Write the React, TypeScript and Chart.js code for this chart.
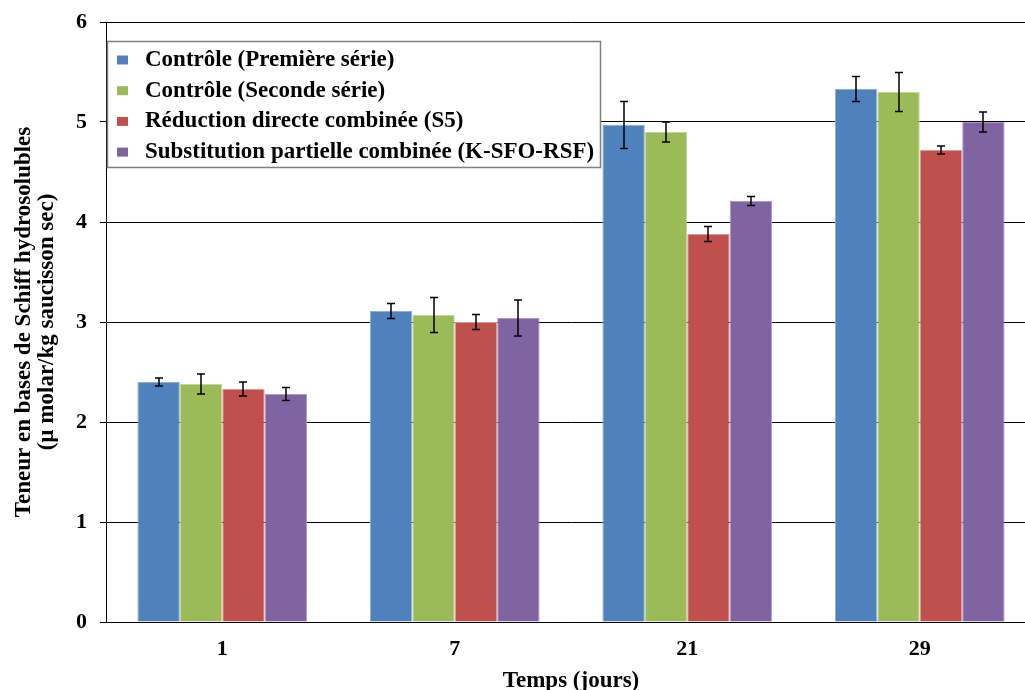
import React, { useEffect, useRef } from "react";
import { Chart, registerables } from "chart.js";

Chart.register(...registerables);

const categories = ["1", "7", "21", "29"];
const seriesLabels = [
  "Contrôle (Première série)",
  "Contrôle (Seconde série)",
  "Réduction directe combinée (S5)",
  "Substitution partielle combinée (K-SFO-RSF)",
];
const controle1 = [2.4, 3.11, 4.97, 5.33];
const controle1Err = [0.04, 0.075, 0.235, 0.125];
const controle2 = [2.38, 3.07, 4.9, 5.3];
const controle2Err = [0.1, 0.175, 0.1, 0.195];
const reduction = [2.33, 3.0, 3.88, 4.72];
const reductionErr = [0.07, 0.075, 0.075, 0.04];
const substitution = [2.28, 3.04, 4.21, 5.0];
const substitutionErr = [0.065, 0.18, 0.045, 0.1];
const yTicks = [0, 1, 2, 3, 4, 5, 6];

const colors = ["#4F81BD", "#9BBB59", "#C0504D", "#8064A2"];
const borders = ["#8EAEDA", "#C3DA94", "#E09896", "#B09ACB"];
const FONT = "'Liberation Serif', 'Times New Roman', serif";

const errorBarPlugin = {
  id: "errorBars",
  afterDatasetsDraw(chart: any) {
    const ctx = chart.ctx;
    const yScale = chart.scales.y;
    ctx.save();
    ctx.strokeStyle = "#000";
    ctx.lineWidth = 1.5;
    chart.data.datasets.forEach((ds: any, i: number) => {
      const meta = chart.getDatasetMeta(i);
      meta.data.forEach((el: any, j: number) => {
        const v = ds.data[j];
        const e = ds.errors[j];
        const top = yScale.getPixelForValue(v + e);
        const bot = yScale.getPixelForValue(v - e);
        const x = Math.round(el.x);
        ctx.beginPath();
        ctx.moveTo(x, top);
        ctx.lineTo(x, bot);
        ctx.moveTo(x - 4, top);
        ctx.lineTo(x + 4, top);
        ctx.moveTo(x - 4, bot);
        ctx.lineTo(x + 4, bot);
        ctx.stroke();
      });
    });
    ctx.restore();
  },
};

const legendPlugin = {
  id: "boxLegend",
  afterDraw(chart: any) {
    const ctx = chart.ctx;
    ctx.save();
    const left = 107.5, top = 41.5, w = 493, h = 126;
    ctx.fillStyle = "#fff";
    ctx.fillRect(left, top, w, h);
    ctx.strokeStyle = "#7f7f7f";
    ctx.lineWidth = 1.5;
    ctx.strokeRect(left, top, w, h);
    ctx.font = `bold 23px ${FONT}`;
    ctx.textBaseline = "middle";
    ctx.textAlign = "left";
    chart.data.datasets.forEach((ds: any, i: number) => {
      const cy = 60 + i * 30.7;
      ctx.fillStyle = ds.backgroundColor;
      ctx.fillRect(117, cy - 4.5, 11, 9);
      ctx.fillStyle = "#000";
      ctx.fillText(ds.label, 145, cy);
    });
    ctx.restore();
  },
};

export default function App() {
  const ref = useRef<HTMLCanvasElement>(null);
  useEffect(() => {
    if (!ref.current) return;
    const values = [controle1, controle2, reduction, substitution];
    const errs = [controle1Err, controle2Err, reductionErr, substitutionErr];
    const chart = new Chart(ref.current, {
      type: "bar",
      data: {
        labels: categories,
        datasets: values.map((d, i) => ({
          label: seriesLabels[i],
          data: d,
          errors: errs[i],
          backgroundColor: colors[i],
          borderColor: borders[i],
          borderWidth: 1,
          categoryPercentage: 0.73,
          barPercentage: 1,
        })) as any,
      },
      options: {
        animation: false,
        responsive: false,
        maintainAspectRatio: false,
        layout: { padding: { top: 22, left: 0, right: 0, bottom: 0 } },
        plugins: { legend: { display: false }, tooltip: { enabled: false } },
        scales: {
          x: {
            grid: { display: false, drawTicks: false },
            border: { display: true, color: "#000", width: 1 },
            ticks: { color: "#000", font: { family: FONT, size: 22, weight: "bold" }, padding: 14 },
            title: {
              display: true,
              text: "Temps (jours)",
              color: "#000",
              font: { family: FONT, size: 23, weight: "bold", lineHeight: 1 },
              padding: { top: 0, bottom: -3 },
            },
            afterFit(scale: any) {
              scale.height = 68;
              scale.paddingLeft = 0;
              scale.paddingRight = 0;
            },
          },
          y: {
            min: 0,
            max: 6,
            afterBuildTicks(scale: any) {
              scale.ticks = yTicks.map((v) => ({ value: v }));
            },
            grid: { color: "#000", lineWidth: 1, drawTicks: true, tickLength: 6 },
            border: { display: true, color: "#000", width: 1 },
            ticks: { color: "#000", font: { family: FONT, size: 22, weight: "bold" }, padding: 13 },
            title: {
              display: true,
              text: ["Teneur en bases de Schiff hydrosolubles", "(µ molar/kg saucisson sec)"],
              color: "#000",
              font: { family: FONT, size: 23, weight: "bold", lineHeight: 1.02 },
              padding: { top: 12, bottom: 0 },
            },
            afterFit(scale: any) {
              scale.width = 106;
              scale.paddingTop = 0;
              scale.paddingBottom = 0;
            },
          },
        },
      } as any,
      plugins: [errorBarPlugin, legendPlugin],
    });
    return () => chart.destroy();
  }, []);
  return (
    <div style={{ position: "fixed", left: 0, top: 0, width: 1036, height: 690, background: "#fff" }}>
      <canvas ref={ref} width={1036} height={690} style={{ width: 1036, height: 690 }} />
    </div>
  );
}
